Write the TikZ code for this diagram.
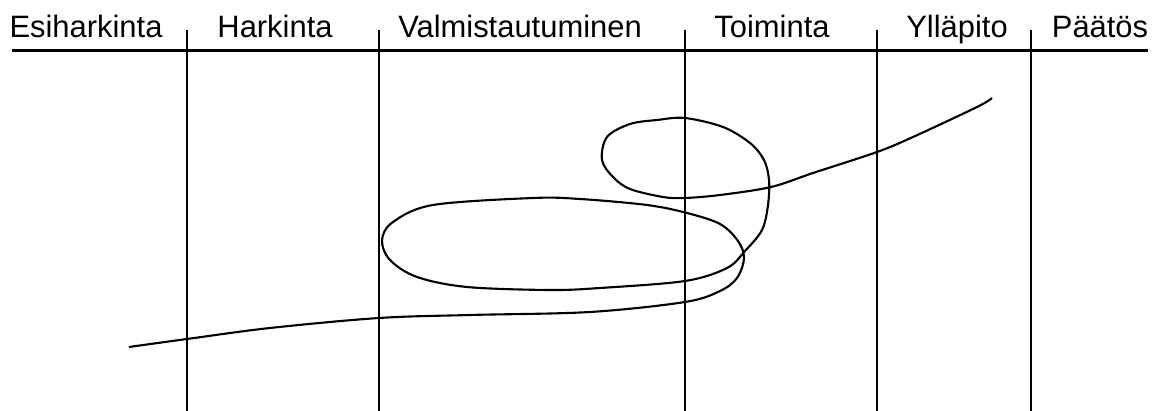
\documentclass[tikz,border=0pt]{standalone}
\usepackage{fontspec}
\setmainfont{Liberation Sans}
\begin{document}
\begin{tikzpicture}[x=0.02cm,y=-0.02cm]
    \tikzset{phase/.style = {anchor=base,inner sep=0pt,font=\fontsize{17.6}{20}\selectfont}, rule/.style = {line width=1.2pt}, path/.style = {line width=1.2pt,line join=round}}
    \useasboundingbox (0,0) rectangle (1160,411);
    \def\yb{38}
    \def\yl{50.5}
    % phase names
    \node[phase] (esi) at (86,\yb){Esiharkinta};
    \node[phase] (hark) at (275,\yb){Harkinta};
    \node[phase] (valm) at (520,\yb){Valmistautuminen};
    \node[phase] (toim) at (772,\yb){Toiminta};
    \node[phase] (yll) at (957,\yb){Ylläpito};
    \node[phase] (paat) at (1100,\yb){Päätös};
    % time axis and phase borders
    \coordinate (l0) at (12,\yl);
    \coordinate (l1) at (1148,\yl);
    \draw[rule] (l0) -- (l1);
    \foreach \x [count=\i] in {187,379,685,877,1031}{
        \coordinate (t\i) at (\x,30);
        \coordinate (b\i) at (\x,411);
        \draw[rule] (t\i) -- (b\i);
    }
    % the path through the phases
    \draw[path] plot[smooth,tension=0.55] coordinates {(129,347) (187,339) (270,328) (379,318) (470,315) (590,312) (685,302) (720,291) (737,278) (744,258) (738,241) (720,224) (687,213) (647,205) (580,199) (533,198) (433,205) (393,222) (382,240) (390,260) (417,277) (467,287) (550,290) (600,288) (685,281) (727,268) (745,251) (762,230) (768,205) (769,180) (764,160) (750,143) (723,127) (685,118) (657,120) (630,124) (607,137) (602,160) (613,177) (630,189) (663,197) (685,198) (720,195) (771,187) (813,173) (877,152) (913,137) (977,107) (992,98)};
    \end{tikzpicture}
\end{document}
